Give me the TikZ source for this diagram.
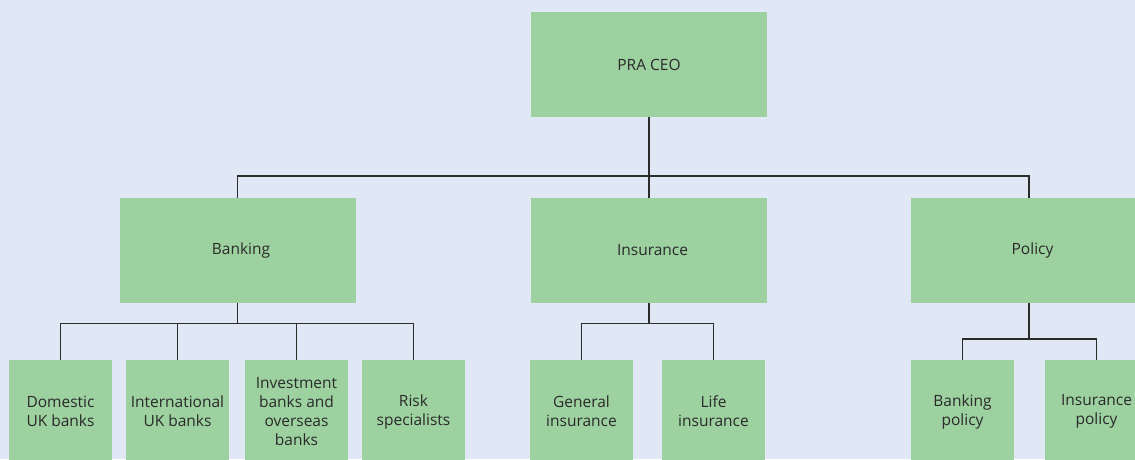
\documentclass[tikz,border=0pt]{standalone}
\usepackage{fontspec}
\setmainfont{Open Sans}
\definecolor{bgc}{HTML}{DFE8F4}
\definecolor{boxc}{HTML}{9DD1A0}
\definecolor{txtc}{HTML}{2A2A2A}
\definecolor{linec}{HTML}{2B2B2B}
\begin{document}
\begin{tikzpicture}[x=1pt,y=-1pt,
  box/.style={fill=boxc,draw=none,inner sep=0pt,align=center,text=txtc,
    font=\fontsize{15.5}{19}\selectfont},
  big/.style={box,minimum width=236pt,minimum height=105pt},
  mid/.style={big,execute at begin node={\hspace*{7pt}}},
  small/.style={box,minimum width=103pt,minimum height=103pt},
  conn/.style={draw=linec,line width=1.8pt}]
\useasboundingbox (0,0) rectangle (1135,459);
\clip (0,0) rectangle (1135,459);
\fill[bgc] (0,0) rectangle (1135,459);
% level 1
\node[big] (ceo) at (649,64.5) {PRA CEO};
% level 2
\node[mid] (bank) at (237.5,250.5) {Banking};
\node[mid] (ins) at (649,250.5) {Insurance};
\node[mid] (pol) at (1029,250.5) {Policy};
% level 3
\node[small] (dom) at (60.5,411.5) {Domestic\\UK banks};
\node[small] (intl) at (177.5,411.5) {International\\UK banks};
\node[small] (inv) at (296.5,411.5) {Investment\\banks and\\overseas\\banks};
\node[small] (risk) at (413.5,411.5) {Risk\\specialists};
\node[small] (gen) at (581.5,411.5) {General\\insurance};
\node[small] (life) at (713.5,411.5) {Life\\insurance};
\node[small] (bpol) at (962.5,411.5) {Banking\\policy};
\node[small] (ipol) at (1096.5,411.5) {Insurance\\policy};
% connectors
\coordinate (h1) at (649,176);
\draw[conn] (ceo.south) -- (ins.north);
\draw[conn] (bank.north) |- (h1) -| (pol.north);
\coordinate (h2) at (237.5,323.5);
\draw[conn] (bank.south) -- (h2);
\draw[conn] (dom.north) |- (h2) -| (risk.north);
\draw[conn] (intl.north) -- (intl.north |- h2);
\draw[conn] (inv.north) -- (inv.north |- h2);
\coordinate (h3) at (649,323.5);
\draw[conn] (ins.south) -- (h3);
\draw[conn] (gen.north) |- (h3) -| (life.north);
\coordinate (h4) at (1029,339);
\draw[conn] (pol.south) -- (h4);
\draw[conn] (bpol.north) |- (h4) -| (ipol.north);
\end{tikzpicture}
\end{document}
